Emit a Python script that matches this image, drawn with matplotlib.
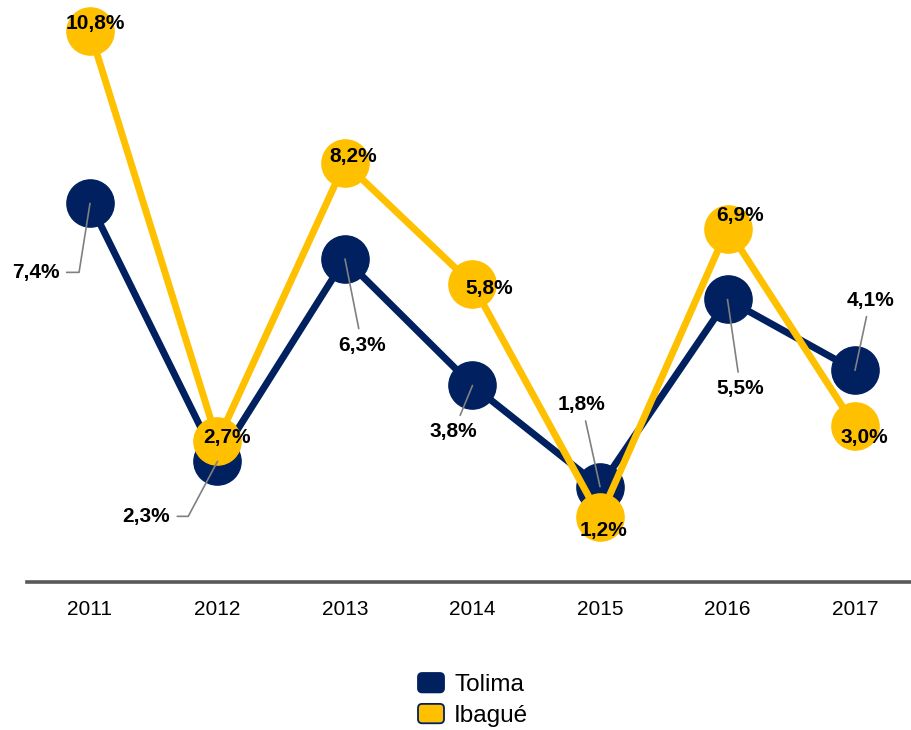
import numpy as np
import matplotlib
matplotlib.use('Agg')
import matplotlib.pyplot as plt
from matplotlib.patches import Patch, FancyBboxPatch
from matplotlib.legend_handler import HandlerPatch

plt.rcParams['font.family'] = ['Liberation Sans', 'DejaVu Sans']

years = ['2011', '2012', '2013', '2014', '2015', '2016', '2017']
tolima = [7.4, 2.3, 6.3, 3.8, 1.8, 5.5, 4.1]
ibague = [10.8, 2.7, 8.2, 5.8, 1.2, 6.9, 3.0]

NAVY = '#002060'
GOLD = '#FFC000'

# label placement (offset in pixels from the marker)
tol_off = [(-54, -69), (-71, -55), (17, -86), (-19, -46), (-18, 82), (13, -89), (15, 70)]
tol_conn = ['angle,angleA=0,angleB=81', 'angle,angleA=0,angleB=62',
            'arc3', 'arc3', 'arc3', 'arc3', 'arc3']
iba_off = [(5, 8), (10, 4), (8, 6), (17, -4), (4, -14), (13, 13), (9, -12)]


class RoundBox(HandlerPatch):
    def create_artists(self, legend, orig_handle, xdescent, ydescent,
                       width, height, fontsize, trans):
        p = FancyBboxPatch((-xdescent, -ydescent), width, height,
                           boxstyle='round,pad=0,rounding_size=3',
                           facecolor=orig_handle.get_facecolor(),
                           edgecolor=NAVY, lw=1.3, transform=trans)
        return [p]


fig = plt.figure(figsize=(9.12, 7.3), dpi=100)
ax = fig.add_axes([27 / 912, 148 / 730, 885 / 912, 582 / 730])

x = np.arange(len(years))
ax.plot(x, tolima, color=NAVY, lw=5, marker='o', ms=34, mec=NAVY, mfc=NAVY,
        solid_joinstyle='round')
ax.plot(x, ibague, color=GOLD, lw=5, marker='o', ms=34, mec=GOLD, mfc=GOLD,
        solid_joinstyle='round')

for i, v in enumerate(tolima):
    ax.annotate(f'{v:.1f}%'.replace('.', ','), xy=(i, v), xytext=tol_off[i],
                textcoords='offset pixels', ha='center', va='center',
                fontsize=15, fontweight='bold', color='black',
                arrowprops=dict(arrowstyle='-', color='#808080', lw=1.2,
                                shrinkA=3, shrinkB=0,
                                connectionstyle=tol_conn[i]))

for i, v in enumerate(ibague):
    ax.annotate(f'{v:.1f}%'.replace('.', ','), xy=(i, v), xytext=iba_off[i],
                textcoords='offset pixels', ha='center', va='center',
                fontsize=15, fontweight='bold', color='black')

ax.set_xlim(-0.494, 6.447)
ax.set_ylim(-0.085, 11.42)
ax.set_xticks(x)
ax.set_xticklabels(years, fontsize=15)
ax.set_yticks([])
ax.tick_params(axis='x', length=0, pad=13)
for s in ['top', 'left', 'right']:
    ax.spines[s].set_visible(False)
ax.spines['bottom'].set_color('#595959')
ax.spines['bottom'].set_linewidth(2.6)

handles = [Patch(facecolor=NAVY, label='Tolima'),
           Patch(facecolor=GOLD, label='Ibagué')]
fig.legend(handles=handles, loc='upper left',
           bbox_to_anchor=(418 / 912, 1 - 673 / 730), frameon=False,
           fontsize=17.5, handlelength=1.07, handleheight=0.85,
           handletextpad=0.42, labelspacing=0.32, borderpad=0,
           borderaxespad=0, handler_map={Patch: RoundBox()})

fig.savefig('out.png', dpi=100)
